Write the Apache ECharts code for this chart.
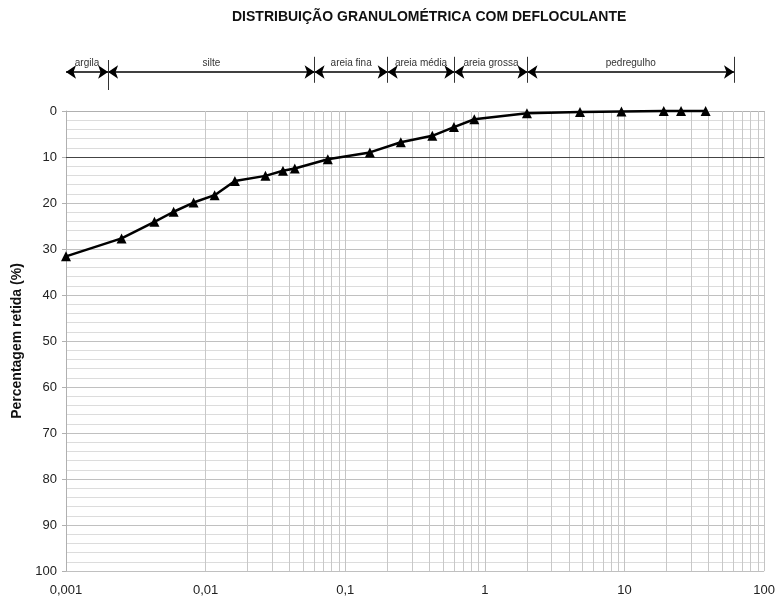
<!DOCTYPE html>
<html>
<head>
<meta charset="utf-8">
<script src="https://cdn.jsdelivr.net/npm/echarts@6/dist/echarts.min.js"></script>
<style>
  html, body { margin: 0; padding: 0; background: #fff; }
  #chart { width: 778px; height: 599px; }
</style>
</head>
<body>
<div id="chart"></div>
<script>
// Grain size (mm) and percentage retained
const diameters = [0.001, 0.0025, 0.0043, 0.0059, 0.0082, 0.0116, 0.0162, 0.0268, 0.0358, 0.0435,
                   0.075, 0.15, 0.25, 0.42, 0.6, 0.84, 2.0, 4.8, 9.5, 19.1, 25.4, 38.1];
const retained = [31.6, 27.7, 24.1, 21.9, 19.9, 18.3, 15.2, 14.1, 13.0, 12.5,
                  10.5, 9.0, 6.8, 5.4, 3.5, 1.8, 0.5, 0.2, 0.1, 0, 0, 0];

// Soil fraction limits (mm) and their names
const fractionLimits = [0.001, 0.002, 0.06, 0.2, 0.6, 2, 60];
const fractionNames = ['argila', 'silte', 'areia fina', 'areia média', 'areia grossa', 'pedregulho'];

// Axis labels
const xTickLabels = ['0,001', '0,01', '0,1', '1', '10', '100'];
const yTicks = [0, 10, 20, 30, 40, 50, 60, 70, 80, 90, 100];

const FONT = 'Liberation Sans, Arial, sans-serif';

// Intermediate decade lines (2..9 within each decade)
const minorX = [];
for (let d = 0.001; d < 50; d *= 10) {
  for (let k = 2; k <= 9; k++) minorX.push(+(d * k).toPrecision(3));
}

const chart = echarts.init(document.getElementById('chart'), null, { renderer: 'canvas' });

const option = {
  animation: false,
  textStyle: { fontFamily: FONT },
  title: {
    text: 'DISTRIBUIÇÃO GRANULOMÉTRICA COM DEFLOCULANTE',
    left: 227, top: 5,
    textStyle: { fontFamily: FONT, fontSize: 14, fontWeight: 'bold', color: '#111' }
  },
  grid: [
    { left: 66, right: 13, top: 111, bottom: 28 },
    { left: 66, right: 13, top: 50, height: 40 }
  ],
  xAxis: [
    {
      type: 'log', logBase: 10, min: 0.001, max: 100, splitNumber: 5,
      gridIndex: 0,
      axisLine: { show: true, lineStyle: { color: '#b0b0b0', width: 1 } },
      axisTick: { show: false },
      axisLabel: {
        fontSize: 13, color: '#222', margin: 13,
        formatter: v => xTickLabels[Math.round(Math.log10(v)) + 3]
      },
      splitLine: { show: true, lineStyle: { color: '#c4c4c4', width: 1 } }
    },
    { type: 'log', logBase: 10, min: 0.001, max: 100, gridIndex: 1, show: false }
  ],
  yAxis: [
    {
      type: 'value', inverse: true, min: 0, max: 100, interval: 10,
      gridIndex: 0,
      name: 'Percentagem retida (%)',
      nameLocation: 'middle', nameGap: 37, nameRotate: 90,
      nameTextStyle: { fontFamily: FONT, fontSize: 14, fontWeight: 'bold', color: '#111' },
      axisLine: { show: true, lineStyle: { color: '#b0b0b0', width: 1 } },
      axisTick: { show: true, length: 4, lineStyle: { color: '#b0b0b0' } },
      axisLabel: {
        fontSize: 13, color: '#222', margin: 9,
        formatter: v => (yTicks.includes(v) ? String(v) : '')
      },
      splitLine: { show: true, lineStyle: { color: '#c0c0c0', width: 1 } },
      minorTick: { show: false, splitNumber: 5 },
      minorSplitLine: { show: true, lineStyle: { color: '#dcdcdc', width: 1 } }
    },
    { type: 'value', min: 0, max: 1, gridIndex: 1, show: false }
  ],
  series: [
    // Intermediate vertical grid lines and the emphasised 10 % line
    {
      type: 'line', xAxisIndex: 0, yAxisIndex: 0, data: [], z: 1, silent: true,
      markLine: {
        silent: true, symbol: 'none', animation: false,
        label: { show: false },
        emphasis: { disabled: true },
        lineStyle: { color: '#c8c8c8', width: 1, type: 'solid' },
        data: minorX.map(v => ({ xAxis: v })).concat([
          { yAxis: 10, lineStyle: { color: '#444', width: 1, type: 'solid' } }
        ])
      }
    },
    // Grain size distribution curve
    {
      type: 'line', xAxisIndex: 0, yAxisIndex: 0, z: 5, clip: false,
      data: diameters.map((d, i) => [d, retained[i]]),
      symbol: 'triangle', symbolSize: 10,
      itemStyle: { color: '#000' },
      lineStyle: { color: '#000', width: 2.5 },
      smooth: false
    },
    // Fraction ranges (double arrows)
    {
      type: 'lines', coordinateSystem: 'cartesian2d', xAxisIndex: 1, yAxisIndex: 1,
      symbol: ['arrow', 'arrow'], symbolSize: 10, silent: true,
      lineStyle: { color: '#000', width: 1.5, opacity: 1, curveness: 0 },
      label: {
        show: true, position: 'insideMiddleTop', distance: 4,
        fontSize: 10, color: '#333', fontFamily: FONT,
        formatter: p => p.name
      },
      data: fractionNames.map((n, i) => ({
        name: n,
        coords: [[fractionLimits[i], 0.45], [fractionLimits[i + 1], 0.45]]
      }))
    },
    // Fraction limit markers
    {
      type: 'lines', coordinateSystem: 'cartesian2d', xAxisIndex: 1, yAxisIndex: 1,
      symbol: 'none', silent: true,
      lineStyle: { color: '#333', width: 1, opacity: 1 },
      data: fractionLimits.slice(1).map((v, i) => ({
        coords: i === 0 ? [[v, 0.75], [v, 0]] : [[v, 0.83], [v, 0.18]]
      }))
    }
  ]
};

chart.setOption(option);
</script>
</body>
</html>
